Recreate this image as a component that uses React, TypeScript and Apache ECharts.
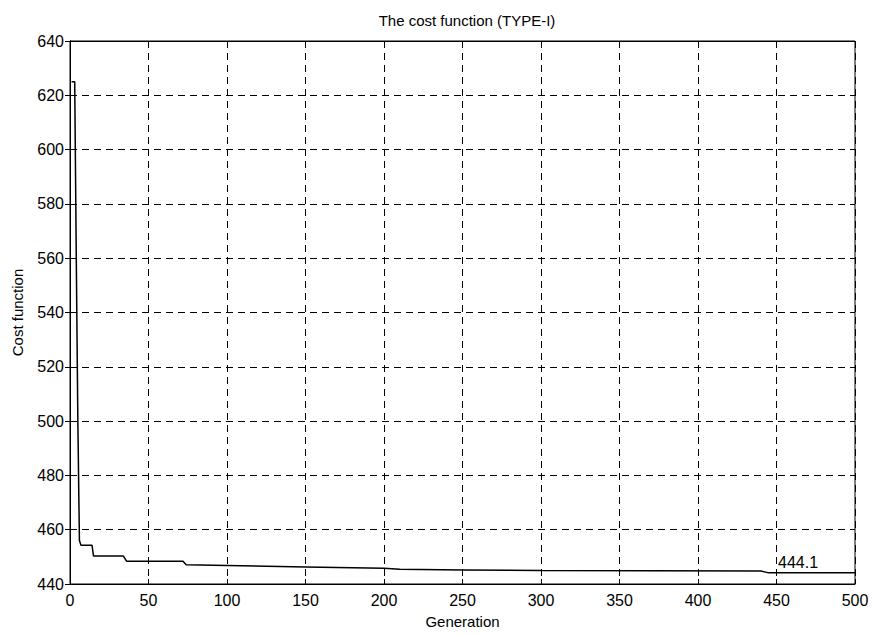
import React, { useEffect, useRef } from "react";
import * as echarts from "echarts";

const generations = [1, 3, 4, 5, 6, 7, 14, 15, 34, 36, 72, 74, 100, 150, 200, 210, 250, 300, 440, 445, 500];
const costs = [625, 625, 560, 500, 456, 454.3, 454.3, 450.3, 450.3, 448.4, 448.4, 447.1, 446.8, 446.3, 445.8, 445.4, 445.2, 445.0, 444.8, 444.1, 444.1];
const finalLabel = "444.1";
const labelAnchor = [451, 448.0];

const FONT = "'Liberation Sans', Arial, sans-serif";

export default function App() {
  const ref = useRef<HTMLDivElement>(null);
  useEffect(() => {
    if (!ref.current) return;
    const chart = echarts.init(ref.current, null, { renderer: "svg" });
    const data = generations.map((g, i) => [g, costs[i]]);
    const tickStyle = { show: true, inside: true, length: 5, lineStyle: { color: "#000", width: 1 } };
    const splitLine = { show: true, lineStyle: { color: "#000", width: 1, type: [7, 5] as any } };
    chart.setOption({
      animation: false,
      backgroundColor: "#fff",
      title: {
        text: "The cost function (TYPE-I)",
        left: 462,
        textAlign: "center",
        top: 8,
        textStyle: { fontFamily: FONT, fontSize: 15, fontWeight: "normal", color: "#000" },
      },
      grid: { left: 70, right: 20, top: 41, bottom: 47, show: true, borderColor: "#000", borderWidth: 1, backgroundColor: "transparent" },
      xAxis: [
        {
          type: "value",
          min: 0,
          max: 500,
          interval: 50,
          name: "Generation",
          nameLocation: "middle",
          nameGap: 30,
          nameTextStyle: { fontFamily: FONT, fontSize: 15, color: "#000" },
          axisLine: { show: true, lineStyle: { color: "#000" } },
          axisTick: tickStyle,
          axisLabel: { fontFamily: FONT, fontSize: 16, color: "#000", margin: 8 },
          splitLine,
        },
        {
          type: "value",
          position: "top",
          min: 0,
          max: 500,
          interval: 50,
          axisLine: { show: true, lineStyle: { color: "#000" } },
          axisTick: tickStyle,
          axisLabel: { show: false },
          splitLine: { show: false },
        },
      ],
      yAxis: [
        {
          type: "value",
          min: 440,
          max: 640,
          interval: 20,
          name: "Cost function",
          nameLocation: "middle",
          nameGap: 45,
          nameTextStyle: { fontFamily: FONT, fontSize: 15, color: "#000" },
          axisLine: { show: true, lineStyle: { color: "#000" } },
          axisTick: tickStyle,
          axisLabel: { fontFamily: FONT, fontSize: 16, color: "#000", margin: 6 },
          splitLine,
        },
        {
          type: "value",
          position: "right",
          min: 440,
          max: 640,
          interval: 20,
          axisLine: { show: true, lineStyle: { color: "#000" } },
          axisTick: tickStyle,
          axisLabel: { show: false },
          splitLine: { show: false },
        },
      ],
      series: [
        {
          type: "line",
          data,
          showSymbol: false,
          symbol: "none",
          lineStyle: { color: "#000", width: 1.5 },
          xAxisIndex: 0,
          yAxisIndex: 0,
          markPoint: {
            symbol: "circle",
            symbolSize: 0,
            data: [{ coord: labelAnchor, value: finalLabel }],
            label: {
              show: true,
              position: "right",
              distance: 0,
              formatter: finalLabel,
              fontFamily: FONT,
              fontSize: 16,
              color: "#000",
            },
          },
        },
      ],
    });
    return () => chart.dispose();
  }, []);
  return <div ref={ref} style={{ width: 875, height: 634, position: "absolute", left: 0, top: 0 }} />;
}
